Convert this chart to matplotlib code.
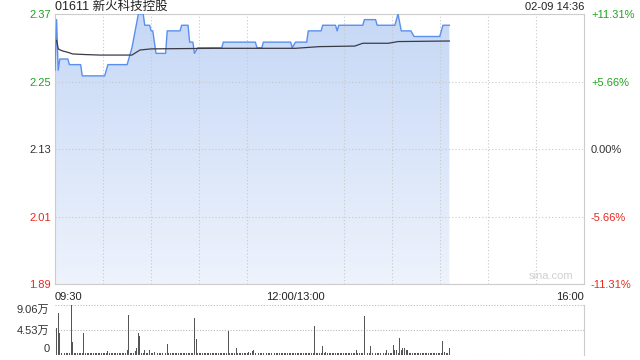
import numpy as np
import matplotlib.pyplot as plt
from matplotlib.colors import LinearSegmentedColormap

plt.rcParams['font.family'] = ['Liberation Sans', 'Noto Sans CJK SC']

# header texts
title = "01611 新火科技控股"
stamp = "02-09 14:36"

# axis labels
price_ticks = [2.37, 2.25, 2.13, 2.01, 1.89]
pct_labels = ["+11.31%", "+5.66%", "0.00%", "-5.66%", "-11.31%"]
time_ticks = [0, 150, 330]  # minutes from 09:30 (lunch removed)
time_labels = ["09:30", "12:00/13:00", "16:00"]
vol_ticks = [0, 4.53, 9.06]
vol_labels = ["0", "4.53万", "9.06万"]

# price line vertices (minute, price)
price_t = [0, 1, 2, 3, 8, 9, 16, 17, 31, 33, 45, 48, 50, 52, 55, 56, 59, 60, 61,
           63, 69, 70, 78, 79, 83, 84, 86, 87, 89, 104, 105, 125, 126, 129, 130,
           147, 148, 150, 157, 158, 166, 167, 175, 176, 177, 192, 193, 200, 201,
           212, 214, 216, 222, 224, 240, 242, 246]
price = [2.27, 2.36, 2.27, 2.29, 2.29, 2.28, 2.28, 2.26, 2.26, 2.28, 2.28, 2.31, 2.34,
         2.37, 2.37, 2.35, 2.35, 2.34, 2.34, 2.30, 2.30, 2.34, 2.34, 2.35, 2.35, 2.32,
         2.32, 2.30, 2.31, 2.31, 2.32, 2.32, 2.31, 2.31, 2.32, 2.32, 2.31, 2.32, 2.32,
         2.34, 2.34, 2.35, 2.35, 2.34, 2.35, 2.35, 2.36, 2.36, 2.35, 2.35, 2.37, 2.34,
         2.34, 2.33, 2.33, 2.35, 2.35]

# average price line vertices
avg_t = [1, 2, 4, 9, 11, 18, 28, 48, 53, 60, 100, 150, 165, 187, 192, 208, 214, 246]
avg = [2.323, 2.308, 2.305, 2.301, 2.299, 2.298, 2.297, 2.297, 2.306, 2.308, 2.309,
       2.309, 2.312, 2.313, 2.318, 2.318, 2.321, 2.322]

# volume per minute (万股), minutes 0..246
vol = [5.2, 4.8, 7.65, 4.0, 0.2, 0.6, 0.2, 0.2, 0.2, 0.2,
       9.06, 2.35, 0.2, 0.2, 0.2, 0.2, 0.2, 0.2, 4.0, 0.2,
       0.2, 0.2, 0.2, 0.2, 0.2, 0.2, 0.2, 0.2, 0.2, 0.2,
       0.2, 0.2, 0.2, 0.6, 0.2, 0.2, 0.2, 0.2, 0.2, 0.2,
       0.2, 0.2, 0.2, 0.2, 0.2, 0.9, 7.2, 0.2, 0.2, 0.3,
       0.6, 1.1, 4.0, 3.4, 0.2, 0.2, 0.8, 0.2, 0.2, 0.8,
       0.2, 0.2, 0.5, 1.7, 0.2, 0.2, 0.2, 0.2, 0.2, 0.2,
       1.9, 0.2, 0.2, 0.2, 0.2, 0.2, 0.2, 0.2, 0.2, 0.2,
       0.2, 0.2, 0.2, 0.2, 0.2, 0.2, 0.2, 6.6, 2.8, 0.2,
       0.2, 0.2, 0.2, 0.2, 0.2, 0.2, 0.2, 0.2, 0.2, 0.2,
       0.2, 0.2, 0.2, 0.2, 0.2, 0.2, 0.2, 0.2, 4.3, 0.2,
       0.2, 0.2, 0.2, 1.1, 0.3, 0.2, 0.2, 0.2, 0.2, 0.2,
       0.2, 0.5, 0.2, 0.6, 0.8, 0.2, 0.2, 0.2, 0.2, 0.2,
       0.2, 0.2, 0.2, 0.2, 0.2, 0.2, 0.2, 0.2, 0.2, 0.2,
       0.2, 0.2, 0.2, 0.2, 0.2, 0.2, 0.2, 0.2, 0.2, 0.2,
       0.2, 0.2, 0.2, 0.2, 0.2, 0.2, 0.2, 0.2, 0.2, 0.2,
       0.2, 0.2, 5.2, 0.2, 0.2, 0.2, 0.2, 1.55, 0.2, 0.5,
       0.2, 0.2, 0.2, 0.2, 0.2, 0.2, 0.2, 0.2, 0.2, 0.2,
       0.2, 0.2, 0.2, 0.2, 0.2, 0.2, 0.2, 0.2, 0.9, 0.2,
       0.2, 0.2, 0.2, 7.05, 0.2, 0.2, 0.2, 1.55, 0.2, 0.2,
       0.2, 0.2, 0.2, 0.2, 0.2, 0.2, 0.2, 0.9, 0.2, 0.2,
       0.2, 1.7, 0.9, 0.8, 0.2, 3.0, 0.9, 1.2, 1.1, 0.9,
       0.9, 0.2, 0.2, 0.2, 0.2, 0.3, 0.2, 0.2, 0.2, 0.2,
       0.2, 0.2, 0.2, 0.2, 0.2, 0.2, 0.2, 0.2, 0.2, 0.2,
       0.2, 0.2, 2.5, 0.5, 0.2, 0.2, 1.1]

green = '#1fa31f'
red = '#e8291f'
dark = '#333333'
tick_colors = [green, green, dark, red, red]

fig = plt.figure(figsize=(6.4, 3.6), dpi=100)
ax = fig.add_axes([55/640, 1-284/360, 529/640, 270/360])
axv = fig.add_axes([55/640, 1-354.5/360, 529/640, 49.5/360])

## price panel
ax.set_xlim(0, 330)
ax.set_ylim(1.89, 2.37)

# gradient fill under the price line
fill = ax.fill_between(price_t, price, 1.89, color='none', lw=0)
cmap = LinearSegmentedColormap.from_list('bl', ['#eef3fc', '#c6d8f6'])
grad = np.linspace(0, 1, 256).reshape(-1, 1)
im = ax.imshow(grad, cmap=cmap, origin='lower', aspect='auto',
               extent=[0, 330, 1.89, 2.37], zorder=1)
im.set_clip_path(fill.get_paths()[0], transform=ax.transData)

ax.plot(price_t, price, color='#5a8ff0', lw=1.0, zorder=3)
ax.plot(avg_t, avg, color='#3a3a48', lw=0.9, zorder=4)

ax.set_xticks(range(30, 330, 30), minor=True)
ax.set_xticks(time_ticks, time_labels)
ax.grid(which='minor', axis='x', color='#c8c8c8', ls=(0, (1, 2)), lw=0.8)
ax.set_yticks(price_ticks, [f"{p:.2f}" for p in price_ticks])
ax.grid(which='major', axis='y', color='#c8c8c8', ls=(0, (1, 2)), lw=0.8)
ax.tick_params(axis='both', which='both', length=0, labelsize=8)
ax.tick_params(axis='x', pad=6, colors='#222222')
ax.tick_params(axis='y', pad=3)
for lbl, c in zip(ax.get_yticklabels(), tick_colors):
    lbl.set_color(c)
xl = ax.get_xticklabels()
xl[0].set_ha('left')
xl[2].set_ha('right')
for s in ax.spines.values():
    s.set_color('#cccccc')

ax2 = ax.twinx()
ax2.set_ylim(1.89, 2.37)
ax2.set_yticks(price_ticks, pct_labels)
ax2.tick_params(axis='y', length=0, labelsize=8, pad=5)
for lbl, c in zip(ax2.get_yticklabels(), tick_colors):
    lbl.set_color(c)
for s in ax2.spines.values():
    s.set_visible(False)

ax.text(0.979, 0.012, "sina.com", transform=ax.transAxes, ha='right', va='bottom',
        fontsize=8, color='#cfcfcf')
fig.text(55/640, 1-7/360, title, ha='left', va='center', fontsize=9, color='#222222')
fig.text(584/640, 1-7/360, stamp, ha='right', va='center', fontsize=8, color='#222222')

## volume panel
axv.bar(np.arange(len(vol)), vol, width=0.6, color='#555555', zorder=3)
axv.set_xlim(0, 330)
axv.set_ylim(0, 9.06)
axv.set_xticks([])
axv.set_yticks(vol_ticks, vol_labels)
axv.tick_params(axis='y', length=0, labelsize=8, pad=4, colors='#333333')
vl = axv.get_yticklabels()
vl[0].set_va('bottom')
vl[2].set_va('top')
for v in vol_ticks:
    axv.axhline(v, color='#bbbbbb', ls=(0, (1, 1.5)), lw=0.8, zorder=1)
for side in ['top', 'bottom', 'left']:
    axv.spines[side].set_visible(False)
axv.spines['right'].set_color('#cccccc')

fig.savefig('out.png', dpi=100)
